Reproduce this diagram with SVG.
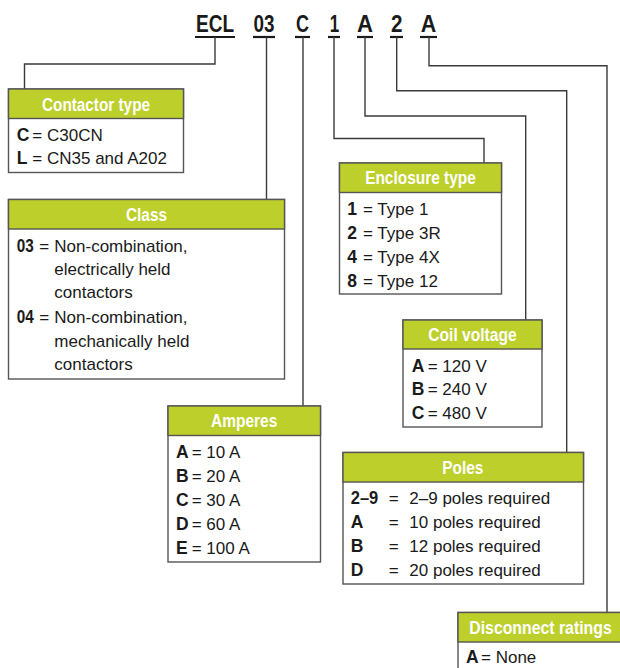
<svg xmlns="http://www.w3.org/2000/svg" width="620" height="668" viewBox="0 0 620 668">
<style>
.bg{fill:#fff}
.conn{fill:none;stroke:#3a3a3a;stroke-width:1.4}
.ul{stroke:#1a1a1a;stroke-width:2.2}
.code{font-family:"Liberation Sans",Arial,sans-serif;font-weight:bold;font-size:23px;fill:#1a1a1a;text-anchor:middle}
.body{fill:#fff;stroke:#555;stroke-width:1.4}
.head{fill:#bdcf2b;stroke:#555;stroke-width:1.4}
.ht{font-family:"Liberation Sans",Arial,sans-serif;font-weight:bold;font-size:17.5px;fill:#fff;text-anchor:middle}
.t{font-family:"Liberation Sans",Arial,sans-serif;font-size:17px;fill:#1a1a1a}
.k{font-family:"Liberation Sans",Arial,sans-serif;font-weight:bold;font-size:17.5px;fill:#1a1a1a}
</style>
<rect class="bg" x="0" y="0" width="620" height="668"/>
<g id="code">
<text class="code" x="215" y="32" textLength="38" lengthAdjust="spacingAndGlyphs">ECL</text>
<text class="code" x="264" y="32" textLength="21" lengthAdjust="spacingAndGlyphs">03</text>
<text class="code" x="302.5" y="32" textLength="13" lengthAdjust="spacingAndGlyphs">C</text>
<text class="code" x="334.5" y="32" textLength="9.5" lengthAdjust="spacingAndGlyphs">1</text>
<text class="code" x="365" y="32" textLength="16" lengthAdjust="spacingAndGlyphs">A</text>
<text class="code" x="396.7" y="32" textLength="11.5" lengthAdjust="spacingAndGlyphs">2</text>
<text class="code" x="428.5" y="32" textLength="15.5" lengthAdjust="spacingAndGlyphs">A</text>
<line class="ul" x1="195" y1="37" x2="235" y2="37"/>
<line class="ul" x1="253" y1="37" x2="275" y2="37"/>
<line class="ul" x1="295" y1="37" x2="310" y2="37"/>
<line class="ul" x1="328" y1="37" x2="340" y2="37"/>
<line class="ul" x1="357" y1="37" x2="373" y2="37"/>
<line class="ul" x1="390" y1="37" x2="403" y2="37"/>
<line class="ul" x1="420" y1="37" x2="437" y2="37"/>
</g>
<g id="connectors">
<polyline class="conn" points="215,37 215,64 24.5,64 24.5,89"/>
<polyline class="conn" points="266.5,37 266.5,199.5"/>
<polyline class="conn" points="303,37 303,406"/>
<polyline class="conn" points="334,37 334,138.5 484,138.5 484,163"/>
<polyline class="conn" points="365,37 365,116 525.7,116 525.7,320"/>
<polyline class="conn" points="396.7,37 396.7,90.7 566.7,90.7 566.7,452.5"/>
<polyline class="conn" points="429,37 429,65.7 607,65.7 607,612.5"/>
</g>
<g id="contactor-type">
<rect class="body" x="8.5" y="89" width="175" height="83.5"/>
<rect class="head" x="8.5" y="89" width="175" height="29.5"/>
<text class="ht" x="96" y="110.5" textLength="108" lengthAdjust="spacingAndGlyphs">Contactor type</text>
<text class="k" x="16.7" y="141">C</text><text class="t" x="32.3" y="141">= C30CN</text>
<text class="k" x="16.7" y="164">L</text><text class="t" x="32.3" y="164">= CN35 and A202</text>
</g>
<g id="class">
<rect class="body" x="8.5" y="199.5" width="276" height="179.5"/>
<rect class="head" x="8.5" y="199.5" width="276" height="29.5"/>
<text class="ht" x="146.5" y="220.5" textLength="41" lengthAdjust="spacingAndGlyphs">Class</text>
<text class="k" x="16.7" y="251.7" textLength="17" lengthAdjust="spacingAndGlyphs">03</text><text class="t" x="39.3" y="251.7">=</text>
<text class="t" x="54.3" y="251.7">Non-combination,</text>
<text class="t" x="54.3" y="275">electrically held</text>
<text class="t" x="54.3" y="298.3">contactors</text>
<text class="k" x="16.7" y="323.3" textLength="17" lengthAdjust="spacingAndGlyphs">04</text><text class="t" x="39.3" y="323.3">=</text>
<text class="t" x="54.3" y="323.3">Non-combination,</text>
<text class="t" x="54.3" y="346.7">mechanically held</text>
<text class="t" x="54.3" y="370">contactors</text>
</g>
<g id="enclosure-type">
<rect class="body" x="339.5" y="163" width="162" height="131"/>
<rect class="head" x="339.5" y="163" width="162" height="29.5"/>
<text class="ht" x="420.5" y="184" textLength="110.7" lengthAdjust="spacingAndGlyphs">Enclosure type</text>
<text class="k" x="347.3" y="215">1</text><text class="t" x="363" y="215">= Type 1</text>
<text class="k" x="347.3" y="239">2</text><text class="t" x="363" y="239">= Type 3R</text>
<text class="k" x="347.3" y="262.7">4</text><text class="t" x="363" y="262.7">= Type 4X</text>
<text class="k" x="347.3" y="286.7">8</text><text class="t" x="363" y="286.7">= Type 12</text>
</g>
<g id="coil-voltage">
<rect class="body" x="403" y="320" width="139" height="107"/>
<rect class="head" x="403" y="320" width="139" height="29"/>
<text class="ht" x="472.5" y="340.5" textLength="88.3" lengthAdjust="spacingAndGlyphs">Coil voltage</text>
<text class="k" x="411.7" y="371.7">A</text><text class="t" x="427.7" y="371.7">= 120 V</text>
<text class="k" x="411.7" y="395">B</text><text class="t" x="427.7" y="395">= 240 V</text>
<text class="k" x="411.7" y="419">C</text><text class="t" x="427.7" y="419">= 480 V</text>
</g>
<g id="amperes">
<rect class="body" x="168" y="406" width="152.5" height="156"/>
<rect class="head" x="168" y="406" width="152.5" height="29.5"/>
<text class="ht" x="244.2" y="427" textLength="66.3" lengthAdjust="spacingAndGlyphs">Amperes</text>
<text class="k" x="176" y="457.7">A</text><text class="t" x="191.7" y="457.7">= 10 A</text>
<text class="k" x="176" y="481.7">B</text><text class="t" x="191.7" y="481.7">= 20 A</text>
<text class="k" x="176" y="505.7">C</text><text class="t" x="191.7" y="505.7">= 30 A</text>
<text class="k" x="176" y="529.7">D</text><text class="t" x="191.7" y="529.7">= 60 A</text>
<text class="k" x="176" y="553.7">E</text><text class="t" x="191.7" y="553.7">= 100 A</text>
</g>
<g id="poles">
<rect class="body" x="343" y="452.5" width="240.5" height="131.5"/>
<rect class="head" x="343" y="452.5" width="240.5" height="29.5"/>
<text class="ht" x="462.8" y="473.5" textLength="41" lengthAdjust="spacingAndGlyphs">Poles</text>
<text class="k" x="350.7" y="504.3" textLength="27.6" lengthAdjust="spacingAndGlyphs">2–9</text><text class="t" x="388.7" y="504.3">=</text><text class="t" x="409.3" y="504.3">2–9 poles required</text>
<text class="k" x="350.7" y="528.3">A</text><text class="t" x="388.7" y="528.3">=</text><text class="t" x="409.3" y="528.3">10 poles required</text>
<text class="k" x="350.7" y="552.3">B</text><text class="t" x="388.7" y="552.3">=</text><text class="t" x="409.3" y="552.3">12 poles required</text>
<text class="k" x="350.7" y="576.3">D</text><text class="t" x="388.7" y="576.3">=</text><text class="t" x="409.3" y="576.3">20 poles required</text>
</g>
<g id="disconnect-ratings">
<rect class="body" x="458" y="612.5" width="166" height="70"/>
<rect class="head" x="458" y="612.5" width="166" height="29.5"/>
<text class="ht" x="540.5" y="633.5" textLength="142.4" lengthAdjust="spacingAndGlyphs">Disconnect ratings</text>
<text class="k" x="466" y="663.3">A</text><text class="t" x="481" y="663.3">= None</text>
</g>
</svg>
